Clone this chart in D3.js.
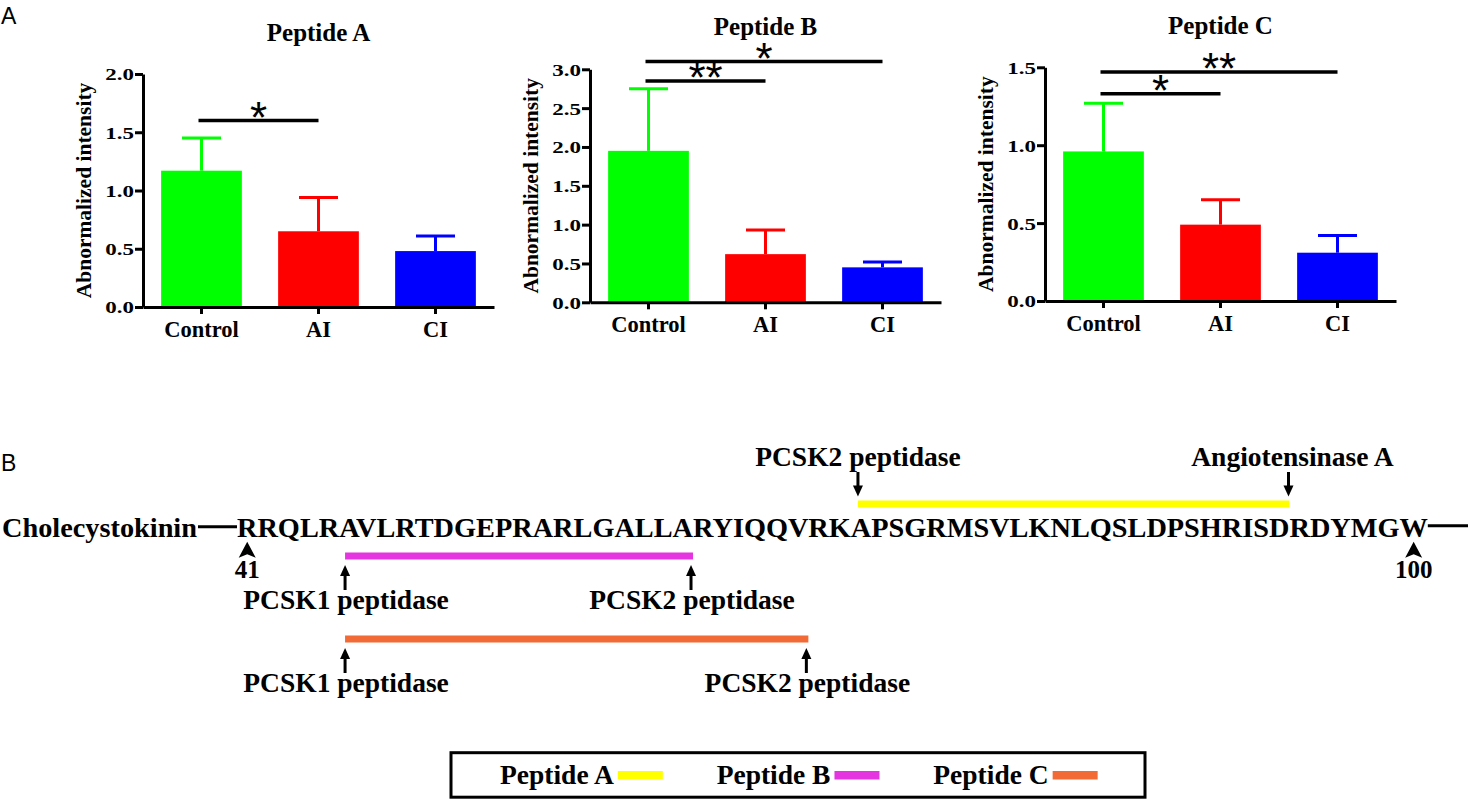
<!DOCTYPE html>
<html>
<head>
<meta charset="utf-8">
<script src="https://cdn.jsdelivr.net/npm/d3@7"></script>
<style>
  body { margin: 0; background: #fff; }
  svg text { font-family: "Liberation Serif", "Times New Roman", serif; font-weight: bold; fill: #000; }
  svg text.panel { font-family: "Liberation Sans", Arial, sans-serif; font-weight: normal; }
  svg text.star { font-family: "Liberation Sans", Arial, sans-serif; font-weight: normal; }
</style>
</head>
<body>
<svg id="fig" width="1468" height="801"></svg>
<script>
// ---- data ----
const groups = ["Control", "AI", "CI"]
const groupColors = ["#00ff00", "#ff0000", "#0000ff"]
const peptideNames = ["Peptide A", "Peptide B", "Peptide C"]

const meansA = [1.17, 0.65, 0.48]
const sdA = [0.28, 0.29, 0.13]
const meansB = [1.95, 0.62, 0.45]
const sdB = [0.80, 0.31, 0.07]
const meansC = [0.96, 0.49, 0.31]
const sdC = [0.31, 0.16, 0.11]
const yMax = [2.0, 3.0, 1.5]

const sigA = [{ a: "Control", b: "AI", v: 1.60, label: "*" }]
const sigB = [{ a: "Control", b: "AI", v: 2.85, label: "**" },
              { a: "Control", b: "CI", v: 3.10, label: "*" }]
const sigC = [{ a: "Control", b: "AI", v: 1.33, label: "*" },
              { a: "Control", b: "CI", v: 1.47, label: "**" }]

const protein = "Cholecystokinin"
const sequence = "RRQLRAVLRTDGEPRARLGALLARYIQQVRKAPSGRMSVLKNLQSLDPSHRISDRDYMGW"
const firstResidue = 41
const lastResidue = 100
const peptideRanges = [[72, 94], [46, 63], [46, 69]]
const peptideColors = ["#ffff00", "#e535e0", "#f26a35"]
const cleavage = [["PCSK2 peptidase", "Angiotensinase A"],
                  ["PCSK1 peptidase", "PCSK2 peptidase"],
                  ["PCSK1 peptidase", "PCSK2 peptidase"]]

const allMeans = [meansA, meansB, meansC]
const allSd = [sdA, sdB, sdC]
const allSig = [sigA, sigB, sigC]

// ---- layout ----
const svg = d3.select("#fig")
const chartX = [143, 590, 1045]
const chartBase = [307, 302.3, 301]
const chartTop = [74, 69.3, 67.3]
const titleY = [40.7, 35, 34]
const chartW = 351

svg.append("text").attr("class", "panel").attr("x", 1).attr("y", 24)
  .style("font-size", "23px").text("A")
svg.append("text").attr("class", "panel").attr("x", 1).attr("y", 471)
  .style("font-size", "23px").text("B")

// ---- panel A: bar charts ----
peptideNames.forEach((name, i) => {
  const means = allMeans[i], sds = allSd[i]
  const x = d3.scaleBand()
    .domain(groups)
    .range([chartX[i], chartX[i] + chartW])
    .paddingInner(0.31)
    .paddingOuter(0.155)
  const y = d3.scaleLinear()
    .domain([0, yMax[i]])
    .range([chartBase[i], chartTop[i]])
  const color = d3.scaleOrdinal().domain(groups).range(groupColors)
  const bw = x.bandwidth()
  const cx = d => x(d) + bw / 2

  const g = svg.append("g")

  // bars
  g.selectAll("rect.bar")
    .data(groups)
    .join("rect")
      .attr("class", "bar")
      .attr("x", d => x(d))
      .attr("width", bw)
      .attr("y", (d, j) => y(means[j]))
      .attr("height", (d, j) => y(0) - y(means[j]))
      .attr("fill", d => color(d))

  // error bars (upper only)
  g.selectAll("line.err")
    .data(groups)
    .join("line")
      .attr("class", "err")
      .attr("x1", cx).attr("x2", cx)
      .attr("y1", (d, j) => y(means[j]))
      .attr("y2", (d, j) => y(means[j] + sds[j]))
      .attr("stroke", d => color(d))
      .attr("stroke-width", 3)
  g.selectAll("line.cap")
    .data(groups)
    .join("line")
      .attr("class", "cap")
      .attr("x1", d => cx(d) - 19.5).attr("x2", d => cx(d) + 19.5)
      .attr("y1", (d, j) => y(means[j] + sds[j]))
      .attr("y2", (d, j) => y(means[j] + sds[j]))
      .attr("stroke", d => color(d))
      .attr("stroke-width", 3)

  // axes
  const yAxis = g.append("g")
    .attr("transform", `translate(${chartX[i]},0)`)
    .call(d3.axisLeft(y)
      .tickValues(d3.range(0, yMax[i] + 0.01, 0.5))
      .tickFormat(d3.format(".1f"))
      .tickSize(8)
      .tickSizeOuter(0)
      .tickPadding(1))
  // the tick labels are wide and squat in the original
  yAxis.selectAll("text")
    .style("font-size", "23px")
    .attr("dy", "0.34em")
    .attr("transform", "scale(1,0.76)")

  const xAxis = g.append("g")
    .attr("transform", `translate(0,${chartBase[i]})`)
    .call(d3.axisBottom(x).tickSize(7).tickSizeOuter(0))
  xAxis.selectAll("text")
    .style("font-size", "22.5px")
    .attr("y", 30).attr("dy", 0)

  g.selectAll(".domain, .tick line")
    .attr("stroke", "#000")
    .attr("stroke-width", 3)

  // y label
  const midY = (chartBase[i] + chartTop[i]) / 2
  g.append("text")
    .attr("transform", `translate(${chartX[i] - 52},${midY}) rotate(-90)`)
    .attr("text-anchor", "middle")
    .style("font-size", "21.5px")
    .text("Abnormalized intensity")

  // title
  g.append("text")
    .attr("x", chartX[i] + chartW / 2)
    .attr("y", titleY[i])
    .attr("text-anchor", "middle")
    .style("font-size", "25px")
    .text(name)

  // significance
  const sg = g.selectAll("g.sig")
    .data(allSig[i])
    .join("g")
      .attr("class", "sig")
  sg.append("line")
    .attr("x1", d => cx(d.a) - 3)
    .attr("x2", d => cx(d.b))
    .attr("y1", d => y(d.v))
    .attr("y2", d => y(d.v))
    .attr("stroke", "#000")
    .attr("stroke-width", 3.5)
  sg.append("text")
    .attr("class", "star")
    .attr("x", d => (cx(d.a) - 3 + cx(d.b)) / 2)
    .attr("y", d => y(d.v) + 12)
    .attr("text-anchor", "middle")
    .style("font-size", "44px")
    .text(d => d.label)
})

// ---- panel B: sequence map ----
const seqX = 237
const seqBaseline = 536.7
const dashY = seqBaseline - 10

const protText = svg.append("text")
  .attr("x", 2).attr("y", seqBaseline)
  .style("font-size", "28.3px")
  .text(protein)
const seqText = svg.append("text")
  .attr("x", seqX).attr("y", seqBaseline)
  .style("font-size", "28.3px")
  .text(sequence)

const seqNode = seqText.node()
const resStart = r => seqNode.getStartPositionOfChar(r - firstResidue).x
const resEnd = r => seqNode.getEndPositionOfChar(r - firstResidue).x
const resMid = r => (resStart(r) + resEnd(r)) / 2

const protEnd = 2 + protText.node().getComputedTextLength()
svg.append("line")
  .attr("x1", protEnd + 1).attr("x2", seqX)
  .attr("y1", dashY).attr("y2", dashY)
  .attr("stroke", "#000").attr("stroke-width", 3)
svg.append("line")
  .attr("x1", resEnd(lastResidue)).attr("x2", 1468)
  .attr("y1", dashY - 1).attr("y2", dashY - 1)
  .attr("stroke", "#000").attr("stroke-width", 3)

// residue number markers
const markers = [firstResidue, lastResidue]
markers.forEach(r => {
  const mx = resMid(r)
  const t = seqBaseline + 5
  svg.append("path")
    .attr("d", `M${mx},${t} L${mx + 8.5},${t + 16} L${mx},${t + 12.5} L${mx - 8.5},${t + 16} Z`)
    .attr("fill", "#000")
  svg.append("text")
    .attr("x", mx).attr("y", seqBaseline + 41)
    .attr("text-anchor", "middle")
    .style("font-size", "25px")
    .text(r)
})

function arrow(x, yTip, yTail) {
  const dir = yTail > yTip ? 1 : -1
  svg.append("line")
    .attr("x1", x).attr("x2", x)
    .attr("y1", yTail).attr("y2", yTip + dir * 8)
    .attr("stroke", "#000").attr("stroke-width", 3)
  svg.append("path")
    .attr("d", `M${x},${yTip} L${x - 5},${yTip + dir * 11} L${x + 5},${yTip + dir * 11} Z`)
    .attr("fill", "#000")
}

// peptide bars, rows: above, below, below
const rowY = [seqBaseline - 32.7, seqBaseline + 19.3, seqBaseline + 102.3]
peptideRanges.forEach((rng, i) => {
  const x0 = resStart(rng[0]) + 0.35 * (resEnd(rng[0]) - resStart(rng[0]))
  const x1 = resEnd(rng[1])
  const yc = rowY[i]
  svg.append("rect")
    .attr("x", x0).attr("width", x1 - x0)
    .attr("y", yc - 3.5).attr("height", 7)
    .attr("fill", peptideColors[i])
  const above = i === 0
  const ends = [x0, above ? x1 - 1 : x1 - 2]
  ends.forEach((ex, k) => {
    if (above) {
      arrow(ex, yc - 7.5, yc - 32)
      svg.append("text").attr("x", ex + (k ? 4 : 0)).attr("y", yc - 38)
        .attr("text-anchor", "middle").style("font-size", "27.5px")
        .text(cleavage[i][k])
    } else {
      arrow(ex, yc + 9, yc + 34)
      svg.append("text").attr("x", ex + 1).attr("y", yc + 53)
        .attr("text-anchor", "middle").style("font-size", "27.5px")
        .text(cleavage[i][k])
    }
  })
})

// ---- legend ----
const legend = svg.append("g")
legend.append("rect")
  .attr("x", 451).attr("y", 752.7)
  .attr("width", 694).attr("height", 44.5)
  .attr("fill", "none").attr("stroke", "#000").attr("stroke-width", 3)
const legX = d3.scalePoint().domain(peptideNames).range([500, 933.3])
peptideNames.forEach((name, i) => {
  const t = legend.append("text")
    .attr("x", legX(name)).attr("y", 784)
    .style("font-size", "27.5px")
    .text(name)
  const end = legX(name) + t.node().getComputedTextLength()
  legend.append("rect")
    .attr("x", end + 4).attr("width", 45)
    .attr("y", 771).attr("height", 8.5)
    .attr("fill", peptideColors[i])
})
</script>
</body>
</html>
